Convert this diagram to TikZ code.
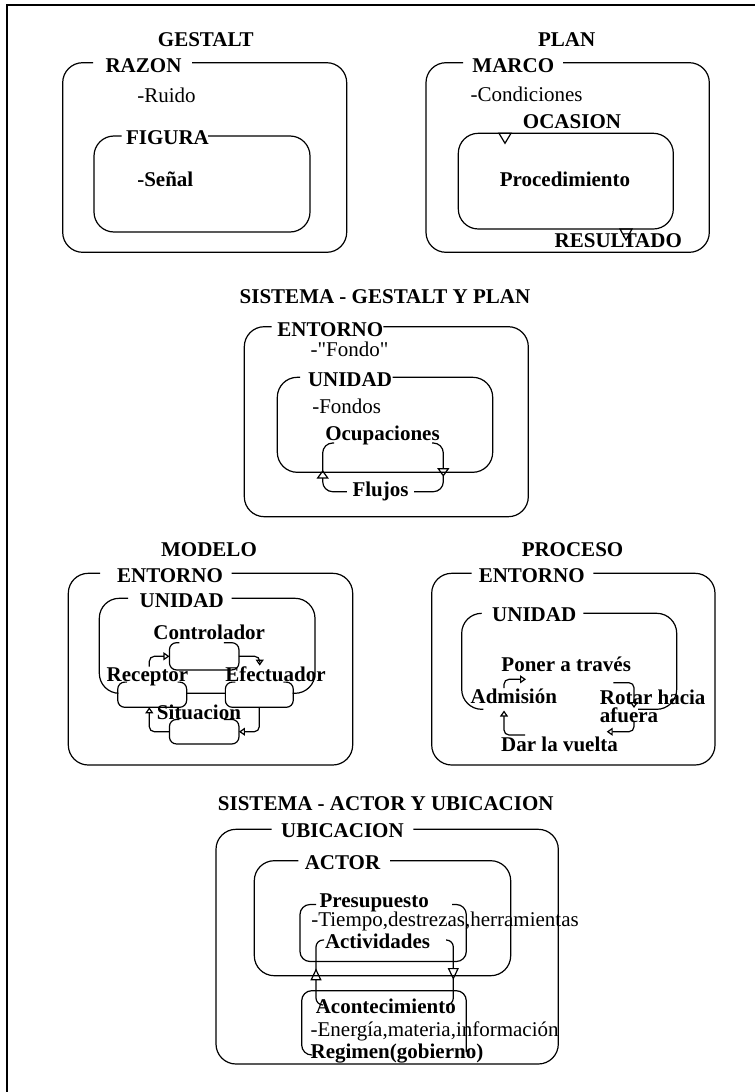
\documentclass[tikz,border=0pt]{standalone}
\usepackage{fontspec}
\setmainfont{Liberation Serif}
\newfontfamily\rawserif{Liberation Serif}[Ligatures=TeXOff]
\usetikzlibrary{arrows.meta}
\begin{document}
\begin{tikzpicture}[x=1pt,y=-1pt,line width=1.2pt,
  every node/.style={font=\fontsize{21}{25}\selectfont, inner sep=0pt},
  bt/.style={font=\fontsize{21}{25}\selectfont\bfseries, anchor=base},
  nt/.style={anchor=base west},
  nbt/.style={font=\fontsize{21}{25}\selectfont\bfseries, anchor=base west},
  bx/.style={rounded corners=20pt},
  sb/.style={fill=white, rounded corners=7pt, inner sep=0pt},
  sbl/.style={rounded corners=7pt},
  rc/.style={rounded corners=5pt},
  bigarr/.style={-{Triangle[open,length=8.5pt,width=12pt]}},
  actarr/.style={-{Triangle[open,length=12pt,width=11pt]}},
  smallarr/.style={-{Triangle[open,length=6pt,width=8pt]}}]
\useasboundingbox (0,0) rectangle (755,1092);
% page frame
\draw (7,1092) -- (7,5) -- (755,5);

% ---------------- GESTALT
\node[bt] (tG) at (205.8,46) {GESTALT};
\draw[bx] (192,62.7) -- (346.7,62.7) -- (346.7,252.3) -- (62.7,252.3) -- (62.7,62.7) -- (93,62.7);
\node[bt] (razon) at (143.5,72.7) {RAZON};
\node[nt] (ruido) at (136.7,102.7) {-Ruido};
\draw[bx] (208,136) -- (310,136) -- (310,232) -- (94,232) -- (94,136) -- (121.7,136);
\node[bt] (figura) at (167.5,144) {FIGURA};
\node[nbt] (senal) at (136.7,186.7) {-Señal};

% ---------------- PLAN
\node[bt] (tP) at (566.7,46) {PLAN};
\draw[bx] (563,62.7) -- (709.3,62.7) -- (709.3,252.3) -- (426,252.3) -- (426,62.7) -- (463,62.7);
\node[bt] (marco) at (513.3,72.7) {MARCO};
\node[nt] (cond) at (470,101.7) {-Condiciones};
\node[bt] (ocasion) at (572,128.3) {OCASION};
\draw[bx] (458.3,133.3) rectangle (673.3,229);
\node[bt] (proc) at (565,186.7) {Procedimiento};
\node[bt] (result) at (618.3,247.7) {RESULTADO};
\draw (499,133.3) -- (511,133.3) -- (505,143.3) -- cycle;
\draw (620,229) -- (632,229) -- (626,240) -- cycle;

% ---------------- SISTEMA - GESTALT Y PLAN
\node[bt] (tS1) at (385,303.3) {SISTEMA - GESTALT Y PLAN};
\draw[bx] (383.3,326.7) -- (528.3,326.7) -- (528.3,516.7) -- (244.3,516.7) -- (244.3,326.7) -- (271.7,326.7);
\node[bt] (ent1) at (330.3,336) {ENTORNO};
\node[nt, font=\fontsize{21}{25}\rawserif] (fondo) at (310,356) {-"Fondo"};
\draw[bx] (392.7,377.3) -- (492.7,377.3) -- (492.7,472.3) -- (277.3,472.3) -- (277.3,377.3) -- (300,377.3);
\node[bt] (uni1) at (350,386) {UNIDAD};
\node[nt] (fondos) at (311.7,413.3) {-Fondos};
\node[bt] (ocup) at (382.5,440) {Ocupaciones};
\node[bt] (flujos) at (380.5,496.5) {Flujos};
\draw[rounded corners=10pt] (322.7,472) -- (322.7,443) -- (334,443);
\draw[rounded corners=10pt, bigarr] (432,443) -- (443.3,443) -- (443.3,476.7);
\draw[rounded corners=10pt] (443.3,476) -- (443.3,491.7) -- (flujos.east |- 0,491.7) -- +(5,0);
\draw[rounded corners=10pt, bigarr] ([xshift=-5pt]flujos.west |- 0,491.7) -- (322.7,491.7) -- (322.7,470);

% ---------------- MODELO
\node[bt] (tM) at (209,556) {MODELO};
\draw[bx] (231.7,573.3) -- (352.7,573.3) -- (352.7,765) -- (68.3,765) -- (68.3,573.3) -- (100,573.3);
\node[bt] (entM) at (170,582.7) {ENTORNO};
\draw[bx] (231.7,598.3) -- (315,598.3) -- (315,693.3) -- (99.3,693.3) -- (99.3,598.3) -- (128,598.3);
\node[bt] (uniM) at (181.7,607.3) {UNIDAD};
\node[sb, minimum width=68.3pt, minimum height=26pt] (ctl) at (204.2,656.3) {};
\node[sb, minimum width=67.7pt, minimum height=24pt] (rec) at (152.2,694.7) {};
\node[sb, minimum width=66.7pt, minimum height=24pt] (eff) at (259.3,694.7) {};
\node[sb, minimum width=68.3pt, minimum height=23.3pt] (sit) at (204.2,731.7) {};
\draw[sbl] ([xshift=-15pt]ctl.north east) -- (ctl.north east) -- (ctl.south east) -- (ctl.south west) -- (ctl.north west) -- ([xshift=10pt]ctl.north west);
\draw[sbl] ([xshift=-9pt]rec.north east) -- (rec.north east) -- (rec.south east) -- (rec.south west) -- (rec.north west) -- ([xshift=9pt]rec.north west);
\draw[sbl] ([xshift=-10pt]eff.north east) -- (eff.north east) -- (eff.south east) -- (eff.south west) -- (eff.north west) -- ([xshift=10pt]eff.north west);
\draw[sbl] ([xshift=-15pt]sit.north east) -- (sit.north east) -- (sit.south east) -- (sit.south west) -- (sit.north west) -- ([xshift=10pt]sit.north west);
\node[bt] (ctlT) at (209.2,639.3) {Controlador};
\node[bt] (recT) at (147.5,681) {Receptor};
\node[bt] (effT) at (275.5,681) {Efectuador};
\node[bt] (sitT) at (199,719.3) {Situacion};
\draw[rc, smallarr] ([xshift=1.8pt]recT.north) |- (ctl.west);
\draw[rc, smallarr] (ctl.east) -| ([xshift=-15.8pt]effT.north);
\draw[rc, smallarr] (eff.south) |- (sit.east);
\draw[rc, smallarr] (sit.west) -| ([xshift=-2.9pt]rec.south);

% ---------------- PROCESO
\node[bt] (tPr) at (572.5,556) {PROCESO};
\draw[bx] (593.3,573.3) -- (715,573.3) -- (715,765) -- (431.7,765) -- (431.7,573.3) -- (471.7,573.3);
\node[bt] (entP) at (531.7,582.7) {ENTORNO};
\draw[bx] (583.3,613.3) -- (676.7,613.3) -- (676.7,709.3) -- (638,709.3);
\draw[bx] (483.3,709.3) -- (461.7,709.3) -- (461.7,613.3) -- (481.7,613.3);
\node[bt] (uniP) at (534.2,621.7) {UNIDAD};
\node[bt] (pon) at (566.2,671.7) {Poner a través};
\node[bt] (adm) at (513.8,703.3) {Admisión};
\node[font=\fontsize{21}{18.4}\selectfont\bfseries, align=left, anchor=north west] (rot) at (599.3,689) {Rotar hacia\\afuera};
\node[bt] (dar) at (559.5,751.7) {Dar la vuelta};
\coordinate (pIn) at (526,679.3);
\coordinate (pOut) at (613.3,682.7);
\coordinate (rIn) at (634,708);
\coordinate (rOut) at (634,721);
\coordinate (dIn) at (606.7,731.7);
\coordinate (dOut) at (525,735);
\coordinate (aIn) at (504,710.5);
\draw[rc, smallarr] ([xshift=-9.8pt]adm.north) |- (pIn);
\draw[rc, smallarr] (pOut) -| (rIn);
\draw[rc, smallarr] (rOut) |- (dIn);
\draw[rc, smallarr] (dOut) -| (aIn);

% ---------------- SISTEMA - ACTOR Y UBICACION
\node[bt] (tS2) at (385.8,810.7) {SISTEMA - ACTOR Y UBICACION};
\draw[bx] (413.3,829.3) -- (558.3,829.3) -- (558.3,1064) -- (216,1064) -- (216,829.3) -- (271.7,829.3);
\node[bt] (ubic) at (342.5,837.3) {UBICACION};
\draw[bx] (390,860.7) -- (510.7,860.7) -- (510.7,975.7) -- (254.3,975.7) -- (254.3,860.7) -- (298.3,860.7);
\node[bt] (actor) at (342.5,869.3) {ACTOR};
\draw[rounded corners=10pt] (452,904.5) -- (466.3,904.5) -- (466.3,961.5) -- (300,961.5) -- (300,904.5) -- (316,904.5);
\node[bt] (pres) at (374.2,907.5) {Presupuesto};
\node[nt] (tiempo) at (310.7,926.7) {-Tiempo,destrezas,herramientas};
\node[bt] (activ) at (377.5,948.5) {Actividades};
\draw[rounded corners=7pt] (316,970) -- (316,940) -- (324,940);
\draw[rounded corners=7pt, actarr] (446,940) -- (453.3,940) -- (453.3,980);
\draw[rounded corners=7pt] (453.3,979) -- (453.3,1005) -- (446,1005);
\draw[rounded corners=7pt, actarr] (323,1005) -- (316,1005) -- (316,968.3);
\draw[rounded corners=10pt] (311,1055) -- (301.7,1055) -- (301.7,990.7) -- (466.3,990.7) -- (466.3,1052);
\node[bt] (acon) at (385.8,1013.3) {Acontecimiento};
\node[nt] (energia) at (310,1036.7) {-Energía,materia,información};
\node[nbt] (regimen) at (310,1058.3) {Regimen(gobierno)};
\end{tikzpicture}
\end{document}
